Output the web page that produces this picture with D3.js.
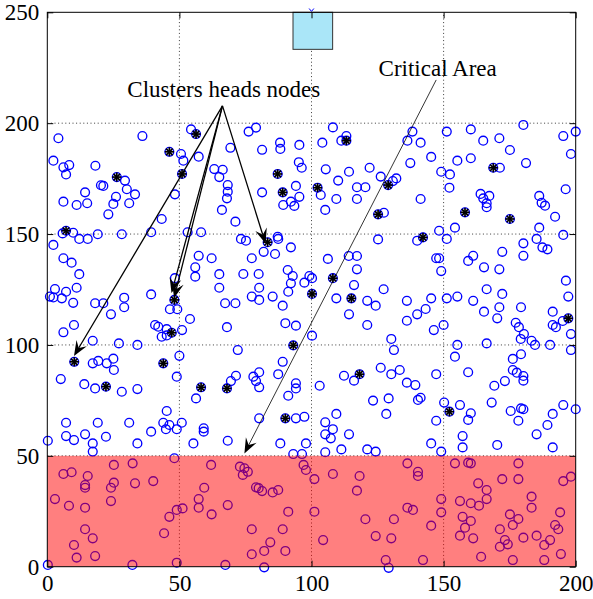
<!DOCTYPE html>
<html>
<head>
<meta charset="utf-8">
<script src="https://cdn.jsdelivr.net/npm/d3@7"></script>
<style>
    body { margin: 0; background: #ffffff; }
    svg { display: block; }
    .tick text { font-family: "Liberation Serif", "Times New Roman", Times, serif; }
</style>
</head>
<body>
<script type="text/javascript">

// sensor nodes, [x, y]
const nodes = [
    [4.2,193.2],[36.0,194.2],[2.3,183.1],[6.1,180.1],[8.3,181.1],[7.1,176.9],[18.2,180.8],[29.4,174.1],[20.3,172.0],[21.2,171.7],
    [14.3,168.8],[30.1,170.2],[26.0,166.8],[33.2,167.9],[48.3,167.9],
    [54.4,197.2],[76.2,196.2],[79.0,198.0],[50.6,186.1],[51.5,183.1],[57.3,184.9],[69.3,188.9],[81.3,188.0],[88.1,191.2],[88.2,188.4],
    [95.4,190.2],[95.2,182.4],[96.3,179.9],[63.2,179.3],[66.4,179.0],[65.1,175.7],[68.3,172.1],[68.3,169.1],[81.3,168.8],[94.1,171.7],[95.4,166.8],
    [108.1,198.1],[104.1,191.2],[111.3,192.1],[113.2,194.2],[138.2,196.2],[136.3,192.1],[141.3,191.2],[145.3,184.8],[137.4,182.0],[105.4,179.2],
    [114.2,178.1],[122.0,179.9],[110.1,174.1],[126.2,175.9],[132.1,175.1],[130.8,173.9],[117.2,171.1],[120.4,171.1],[103.5,167.6],[149.1,178.1],
    [151.2,196.2],[160.3,197.2],[165.0,192.1],[171.1,193.2],[180.2,199.2],[175.1,187.9],[195.3,194.2],[200.0,196.2],[198.2,186.1],[155.2,183.1],
    [160.3,184.2],[152.4,176.9],[171.3,179.9],[181.2,182.0],[152.2,170.9],[164.0,168.1],[167.3,167.2],[186.2,167.2],[196.2,170.2],
    [6.1,164.6],[11.1,163.1],[15.1,163.9],[25.0,163.6],[31.0,163.9],[23.1,158.9],[43.3,156.8],[5.8,150.3],[9.8,150.6],[12.1,147.8],
    [15.3,147.8],[19.1,149.9],[28.2,149.9],[39.3,150.8],[2.3,145.1],[6.1,139.1],[9.2,137.1],[12.1,131.9],[2.9,125.2],[7.1,124.0],
    [11.1,125.8],[1.0,121.8],[2.3,121.4],[5.5,121.0],[9.8,119.0],[18.1,118.8],[21.2,118.8],[29.1,121.3],[29.1,117.0],[24.1,113.8],
    [39.3,122.8],[48.3,130.1],[46.4,116.1],[49.2,116.1],[10.1,109.0],[6.1,105.7],[17.2,101.9],[27.1,100.7],[34.1,100.0],[40.8,109.0],
    [42.0,108.2],[45.2,107.1],[43.3,103.7],[45.2,104.3],[17.2,91.7],[19.3,92.8],[22.5,91.7],[25.0,93.8],[25.2,88.7],[50.0,95.1],
    [49.0,85.7],[5.1,84.6],[14.0,82.3],[18.1,80.4],
    [28.2,78.9],[34.1,80.1],[7.1,64.9],[19.1,64.9],[31.0,64.9],[45.2,70.2],[43.9,64.9],[46.2,63.9],[44.9,62.0],[49.0,62.0],
    [50.9,64.9],[39.3,60.9],[7.1,58.9],[10.1,57.1],[14.3,59.7],[22.2,58.6],[17.2,55.6],[17.2,51.9],[0.2,56.8],[34.1,55.6],
    [48.1,48.9],[25.2,45.9],[32.3,46.6],[6.1,41.8],[9.2,42.6],[15.3,40.9],[14.3,36.8],[14.3,35.6],[25.2,37.9],[24.1,35.6],
    [33.2,37.6],[40.1,38.6],[2.9,30.5],[8.2,27.5],[14.3,26.6],[24.1,29.6],[46.2,22.5],[49.0,25.6],[14.3,16.9],[17.2,12.8],
    [10.1,9.8],[44.2,15.1],[11.1,4.1],[18.1,4.8],[49.0,1.8],[0.2,0.8],[32.2,0.8],
    [68.0,166.1],[89.3,163.1],[92.2,164.6],[93.5,162.7],[66.1,160.9],[71.2,155.6],[53.1,150.8],[58.2,150.8],[73.3,147.8],[75.2,147.0],
    [87.2,148.8],[87.4,147.8],[92.2,144.0],[81.9,142.0],[86.2,141.0],[57.3,140.2],[62.2,139.1],[77.4,139.1],[56.0,135.0],[56.0,130.8],
    [65.1,131.9],[74.2,132.0],[80.0,132.0],[65.1,125.8],[80.2,125.8],[77.4,121.8],[80.2,120.3],[85.3,121.8],[67.3,118.8],[71.2,118.8],
    [91.0,133.8],[92.9,131.1],[92.2,127.8],[97.3,128.1],[99.2,131.1],[100.2,130.1],[91.2,124.0],[89.1,117.7],[54.0,111.7],[51.0,106.7],
    [68.0,108.0],[90.1,109.8],[94.1,108.7],[100.2,104.2],[72.1,97.7],[89.1,92.4],[87.4,86.8],[80.2,87.7],[78.0,85.7],[79.0,83.7],
    [71.4,86.1],[69.5,83.7],[94.1,82.7],[94.1,80.4],
    [80.2,80.9],[56.3,75.9],[91.2,77.1],[80.2,66.9],[94.1,66.9],[97.3,67.6],[59.2,62.4],[59.2,60.9],[68.3,56.8],[55.3,55.6],
    [88.2,55.6],[97.9,55.6],[93.1,50.8],[96.4,50.8],
    [62.0,45.9],[72.9,45.1],[74.6,44.4],[75.9,42.8],[74.0,41.4],[97.0,45.9],[97.9,43.6],[101.1,39.5],[59.4,35.6],[79.0,35.8],
    [80.0,35.4],[81.3,34.1],[85.3,33.5],[87.4,34.6],[57.3,30.5],[57.3,26.6],[51.2,26.3],[68.3,27.8],[62.2,23.6],[91.2,24.8],
    [101.1,24.8],[77.4,16.9],[89.1,16.9],[84.4,11.0],[82.1,7.1],[90.1,7.1],[77.4,5.6],[67.4,0.8],[82.1,-0.3],
    [109.4,165.8],[117.2,165.8],[141.3,165.8],[105.2,160.9],[127.4,159.6],[148.3,151.5],[140.0,147.0],[125.2,147.6],[106.2,138.8],[114.1,140.1],
    [117.2,140.1],[117.2,134.1],[147.2,139.1],[148.3,139.1],[149.1,133.3],[116.1,127.0],[127.3,125.1],[109.4,121.0],[121.1,119.9],[124.3,117.7],
    [136.1,119.9],[145.3,121.0],[143.2,116.2],[140.0,113.8],[136.1,110.9],[114.2,113.8],[121.1,109.0],[146.3,106.7],[150.0,109.0],[130.2,102.7],
    [131.2,97.7],[112.3,86.1],[116.1,83.9],[126.2,89.7],[130.2,86.8],[133.4,88.7],[147.2,86.8],[136.1,83.0],[139.3,81.9],[103.1,81.6],
    [123.3,74.9],[129.2,75.9],[140.3,75.2],[141.3,76.2],[150.2,74.0],[109.4,68.9],[128.3,68.9],[147.2,65.8],[105.2,65.1],[108.1,62.0],
    [105.2,59.7],[107.3,57.9],[114.2,59.7],[111.3,52.9],[105.2,51.6],[121.1,52.9],[124.3,51.9],[145.3,55.6],[149.1,51.9],
    [136.3,46.6],[140.3,42.8],[140.3,40.9],[108.1,41.8],[118.2,40.9],[117.2,34.3],[149.1,30.5],[136.3,26.6],[138.4,25.6],[149.1,24.5],
    [120.4,21.4],[131.2,21.4],[145.3,18.5],[124.3,13.8],[130.2,12.8],[104.4,12.0],[128.1,3.0],[142.2,3.0],[129.2,-0.5],
    [165.0,166.1],[166.3,163.9],[166.3,162.1],[187.1,164.1],[188.4,162.8],[154.3,152.9],[151.2,147.8],[186.2,152.9],[192.2,157.8],[195.3,149.6],
    [185.2,147.8],[180.2,145.8],[187.4,144.0],[189.3,143.1],[172.2,142.0],[180.2,140.2],[159.3,137.9],[161.2,140.2],[165.3,135.0],[171.1,134.1],
    [196.3,129.0],[197.2,121.8],[166.3,125.1],[172.2,123.0],[155.2,121.8],[151.2,121.0],[161.2,119.9],[165.3,115.0],[171.1,117.0],[170.3,112.0],
    [179.3,117.0],[191.3,115.0],[195.1,110.8],[191.3,109.0],[192.5,108.0],[198.2,104.9],[177.3,110.0],[178.5,108.0],[180.4,104.9],[179.2,102.7],
    [183.3,101.9],[184.6,100.0],[190.3,100.0],[198.2,97.7],[166.3,100.7],[155.2,100.0],[154.3,94.7],[179.3,95.8],[176.2,93.7],[176.2,88.7],
    [177.7,87.5],[180.2,86.0],[180.2,83.9],[159.3,87.7],[173.2,83.7],[169.2,81.6],
    [156.2,72.9],[160.3,69.2],[159.3,66.2],[168.2,74.0],[175.4,70.2],[179.3,71.4],[180.2,71.0],[178.3,65.8],[195.3,72.9],[200.0,71.0],
    [191.3,68.9],[189.3,63.9],[185.2,59.7],[157.2,58.9],[157.2,53.8],[170.3,54.9],[191.3,53.8],
    [154.3,46.6],[159.3,46.9],[160.3,46.6],[178.3,46.6],[172.2,39.5],[178.3,39.5],[195.3,38.6],[198.2,40.6],[163.1,37.6],[166.3,34.6],
    [166.3,30.5],[156.2,29.6],[160.3,28.6],[163.4,27.5],[183.3,31.6],[183.3,26.6],[194.1,24.5],[157.2,22.5],[160.3,20.6],[158.1,17.6],
    [175.1,23.6],[178.3,21.5],[176.2,18.8],[192.2,18.8],[193.4,16.9],[171.3,16.9],[156.2,14.0],[161.2,12.8],[180.2,13.1],[185.2,14.0],
    [173.2,12.0],[174.3,10.1],[171.3,9.0],[190.3,12.0],[188.1,9.8],[194.4,5.7],[164.2,4.5],[176.2,3.0],[188.1,3.0]
];

// cluster head nodes, [x, y]
const cluster_heads = [
    [46.2,187.1],[26.3,175.7],[56.3,195.1],[51.0,177.1],[87.2,177.1],[89.1,168.8],[102.3,170.9],[113.2,192.1],[129.0,172.1],[168.8,179.9],
    [7.1,151.5],[48.1,120.3],[47.1,105.5],[10.2,92.4],[43.9,91.7],[22.2,81.2],[83.4,146.3],[100.2,123.0],[93.1,99.8],[58.2,80.9],
    [68.0,80.4],[90.1,66.9],[125.2,158.9],[142.2,148.5],[108.1,130.1],[115.1,121.0],[118.2,86.8],[158.1,159.8],[175.1,156.8],[197.2,112.0],
    [152.2,69.9]
];

const x_ticks = [0, 50, 100, 150, 200];
const y_ticks = [0, 50, 100, 150, 200, 250];

// critical area band and sink box, [[x0, y0], [x1, y1]]
const critical_area = [[0, 0], [200, 50]];
const sink_box = [[93, 233.3], [108, 250]];

// arrows of the "Clusters heads nodes" label: one start, several targets
const heads_arrow_start = [66.3, 207.8];
const heads_arrow_ends = [[10.1, 95.0], [47.0, 123.4], [48.0, 121.2], [82.6, 145.7]];
const critical_arrow = [[147.2, 219.5], [74.6, 51.1]];

// ---- set up
let svg_w = 593;
let svg_h = 599;
let left_marg = 47.3;
let right_marg = svg_w - 575.7;
let top_marg = 12.3;
let bottom_marg = svg_h - 566.7;
const serif = "Liberation Serif, Times New Roman, Times, serif";

let svg = d3.select("body").append("svg")
    .attr("width", svg_w)
    .attr("height", svg_h)
    .attr("style", "background-color:#FFFFFF");

let x_scale = d3.scaleLinear()
    .domain([0, 200])
    .range([left_marg, svg_w - right_marg]);

let y_scale = d3.scaleLinear()
    .domain([0, 250])
    .range([svg_h - bottom_marg, top_marg]);

// grid
let grid = svg.append("g")
    .attr("stroke", "#3a3a3a")
    .attr("stroke-width", 1)
    .attr("stroke-dasharray", "1,2.6");
grid.selectAll(".gx")
    .data(x_ticks.slice(1, -1))
    .enter().append("line")
    .attr("x1", d => x_scale(d)).attr("x2", d => x_scale(d))
    .attr("y1", y_scale(0)).attr("y2", y_scale(250));
grid.selectAll(".gy")
    .data(y_ticks.slice(1, -1))
    .enter().append("line")
    .attr("x1", x_scale(0)).attr("x2", x_scale(200))
    .attr("y1", d => y_scale(d)).attr("y2", d => y_scale(d));

// nodes
svg.append("g").selectAll("circle")
    .data(nodes.concat(cluster_heads))
    .enter().append("circle")
    .attr("cx", d => x_scale(d[0]))
    .attr("cy", d => y_scale(d[1]))
    .attr("r", 4.4)
    .attr("fill", "none")
    .attr("stroke", "#0000ff")
    .attr("stroke-width", 1.35);

// cluster heads get an asterisk on top
let star = svg.append("g")
    .attr("stroke", "#000000")
    .attr("stroke-width", 1.7);
for (const h of cluster_heads) {
    const cx = x_scale(h[0]);
    const cy = y_scale(h[1]);
    for (let a = 0; a < 4; a++) {
        const ang = a * Math.PI / 4;
        const dx = 4.6 * Math.cos(ang);
        const dy = 4.6 * Math.sin(ang);
        star.append("line")
            .attr("x1", cx - dx).attr("y1", cy - dy)
            .attr("x2", cx + dx).attr("y2", cy + dy);
    }
}

// critical area (semi transparent red)
svg.append("rect")
    .attr("x", x_scale(critical_area[0][0]))
    .attr("y", y_scale(critical_area[1][1]))
    .attr("width", x_scale(critical_area[1][0]) - x_scale(critical_area[0][0]))
    .attr("height", y_scale(critical_area[0][1]) - y_scale(critical_area[1][1]))
    .attr("fill", "#ff0000")
    .attr("fill-opacity", 0.5);

// sink box at the top
svg.append("rect")
    .attr("x", x_scale(sink_box[0][0]))
    .attr("y", y_scale(sink_box[1][1]))
    .attr("width", x_scale(sink_box[1][0]) - x_scale(sink_box[0][0]))
    .attr("height", y_scale(sink_box[0][1]) - y_scale(sink_box[1][1]))
    .attr("fill", "#aae6f8")
    .attr("stroke", "#333333")
    .attr("stroke-width", 1);

// small mark above the sink
svg.append("path")
    .attr("d", d3.line()([[x_scale(99.1), y_scale(251.7)], [x_scale(100), y_scale(250.4)], [x_scale(100.9), y_scale(251.7)]]))
    .attr("fill", "none")
    .attr("stroke", "#0000ff")
    .attr("stroke-width", 1);

// arrows
function draw_arrow(from, to, width, head_len, head_w) {
    const x1 = x_scale(from[0]), y1 = y_scale(from[1]);
    const x2 = x_scale(to[0]), y2 = y_scale(to[1]);
    const len = Math.hypot(x2 - x1, y2 - y1);
    const ux = (x2 - x1) / len, uy = (y2 - y1) / len;
    const px = -uy, py = ux;
    const bx = x2 - ux * head_len, by = y2 - uy * head_len;
    const nx = x2 - ux * head_len * 0.62, ny = y2 - uy * head_len * 0.62;
    svg.append("line")
        .attr("x1", x1).attr("y1", y1)
        .attr("x2", nx).attr("y2", ny)
        .attr("stroke", "#000")
        .attr("stroke-width", width);
    svg.append("path")
        .attr("d", "M" + x2 + "," + y2 +
            "L" + (bx + px * head_w) + "," + (by + py * head_w) +
            "L" + nx + "," + ny +
            "L" + (bx - px * head_w) + "," + (by - py * head_w) + "Z")
        .attr("fill", "#000");
}

for (const e of heads_arrow_ends) {
    draw_arrow(heads_arrow_start, e, 1.3, 15, 6);
}
draw_arrow(critical_arrow[0], critical_arrow[1], 0.8, 15, 6);

// labels
svg.append("text")
    .attr("x", x_scale(30.3))
    .attr("y", y_scale(211.9))
    .attr("font-family", serif)
    .attr("font-size", "23px")
    .attr("fill", "#000")
    .text("Clusters heads nodes");

svg.append("text")
    .attr("x", x_scale(125.4))
    .attr("y", y_scale(221.4))
    .attr("font-family", serif)
    .attr("font-size", "23px")
    .attr("fill", "#000")
    .text("Critical Area");

// axes
let x_axis = d3.axisBottom(x_scale).tickValues(x_ticks)
    .tickSizeInner(-6).tickSizeOuter(0).tickPadding(8);
let y_axis = d3.axisLeft(y_scale).tickValues(y_ticks)
    .tickSizeInner(-6).tickSizeOuter(0).tickPadding(8);

svg.append("g")
    .attr("transform", "translate(0," + (svg_h - bottom_marg) + ")")
    .call(x_axis)
    .attr("font-family", serif)
    .attr("font-size", 23)
    .call(g => g.select(".domain").remove())
    .selectAll("text")
    .attr("fill", "#000");

svg.append("g")
    .attr("transform", "translate(" + left_marg + ",0)")
    .call(y_axis)
    .attr("font-family", serif)
    .attr("font-size", 23)
    .call(g => g.select(".domain").remove())
    .selectAll("text")
    .attr("fill", "#000");

// top and right ticks, no labels
svg.append("g")
    .attr("transform", "translate(0," + top_marg + ")")
    .call(d3.axisTop(x_scale).tickValues(x_ticks).tickSizeInner(-6).tickSizeOuter(0).tickFormat(""))
    .call(g => g.select(".domain").remove());
svg.append("g")
    .attr("transform", "translate(" + (svg_w - right_marg) + ",0)")
    .call(d3.axisRight(y_scale).tickValues(y_ticks).tickSizeInner(-6).tickSizeOuter(0).tickFormat(""))
    .call(g => g.select(".domain").remove());

// box
svg.append("rect")
    .attr("x", left_marg)
    .attr("y", top_marg)
    .attr("width", svg_w - left_marg - right_marg)
    .attr("height", svg_h - top_marg - bottom_marg)
    .attr("fill", "none")
    .attr("stroke", "#000")
    .attr("stroke-width", 1);

</script>
</body>
</html>
